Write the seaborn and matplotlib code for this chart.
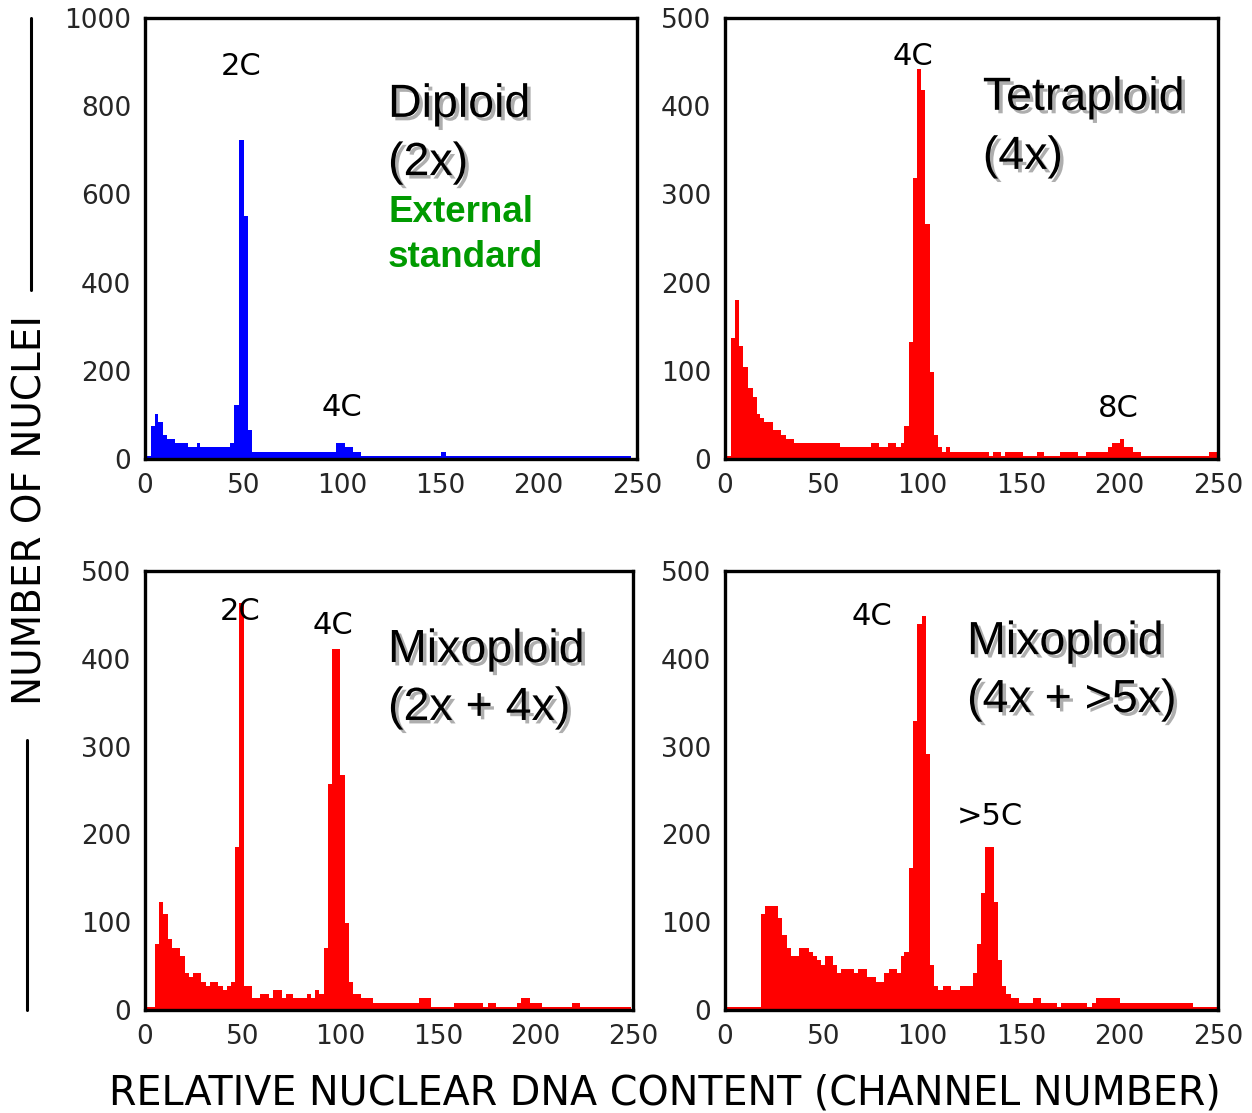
import numpy as np
import pandas as pd
import matplotlib
matplotlib.use("Agg")
import matplotlib.pyplot as plt
import matplotlib.patheffects as pe
from matplotlib.lines import Line2D
import seaborn as sns

# ---------------- data (bin edges in channels, counts per bin) ----------------
diploid_edges = [0, 3, 5, 6.6, 9.2, 11.4, 15.3, 21.9, 26.2, 28.1, 43.4, 45.4, 47.6,
                 50.2, 52.2, 54.2, 96.9, 101.5, 105.8, 109.7, 150.5, 153, 247]
diploid_counts = [7, 75, 102, 84, 54, 45, 36, 27, 36, 27, 36, 122, 723,
                  551, 66, 16, 36, 27, 16, 7, 16, 7]

tetra_edges = [0, 3, 5, 7, 9, 11.5, 14, 16, 18, 20, 24.5, 28.5, 31, 35, 58.5, 74, 78,
               82.5, 86.5, 89, 91, 93.5, 95.5, 97.5, 99.5, 101.5, 104, 106, 108, 110,
               112, 114, 134, 136, 140, 142, 151, 158, 162, 170, 179, 183, 194, 196.5,
               200.5, 202.5, 207, 211, 245.5, 250]
tetra_counts = [3, 137, 180, 128, 104, 80, 70, 51, 46, 42, 33, 27, 23, 18, 14, 18,
                14, 18, 14, 18, 37, 133, 319, 442, 418, 266, 99, 27, 14, 8,
                14, 8, 3, 8, 3, 8, 3, 8, 3, 8, 3, 8, 14,
                18, 23, 14, 8, 3, 8]

mixo24_edges = [0, 5, 7, 9, 12, 14, 18, 20.5, 22.5, 24.5, 28.5, 31, 33.5, 37.5, 40, 42,
                44, 46, 48, 50.5, 55, 59, 63.5, 65.5, 70, 72, 76, 83, 85, 87, 89, 91.5,
                94, 96, 100, 102.5, 104.5, 106.5, 110.5, 117, 140.5, 146.5, 158.5, 173,
                175.5, 180, 190.5, 192.5, 197, 203.5, 219, 223, 249]
mixo24_counts = [3, 75, 123, 109, 81, 71, 62, 42, 38, 42, 32, 27, 32, 27, 23,
                 27, 32, 186, 463, 27, 14, 18, 14, 23, 14, 18, 14, 18, 14, 23, 18,
                 71, 257, 411, 268, 99, 32, 18, 14, 8, 14, 3, 8,
                 3, 8, 3, 8, 14, 8, 3, 8, 3]

mixo45_edges = [0, 18.5, 20.5, 27, 29, 31.5, 33.5, 37.5, 42.5, 44.5, 46.5, 48.5, 50.5,
                55, 57, 59, 65.5, 67.5, 72, 76.5, 80.5, 83, 87, 89, 91, 93.5, 95.5,
                97.5, 100, 102, 104, 106, 108, 110.5, 114.5, 119, 126, 128, 130, 132,
                136.5, 138.5, 140.5, 142.5, 145, 149, 156, 160, 168.5, 170.5, 183.5,
                186, 188, 200.5, 237.5, 249.5]
mixo45_counts = [3, 109, 118, 105, 85, 71, 62, 71, 66, 62, 57, 51,
                 62, 51, 42, 47, 42, 47, 38, 32, 42, 47, 42, 62, 66, 162,
                 329, 440, 449, 292, 51, 27, 23, 27, 23, 27, 42, 75, 133,
                 186, 123, 57, 27, 18, 14, 8, 14, 8, 3, 8,
                 3, 8, 14, 8, 3]

x_ticks = [0, 50, 100, 150, 200, 250]
y_ticks_1000 = [0, 200, 400, 600, 800, 1000]
y_ticks_500 = [0, 100, 200, 300, 400, 500]

# ---------------- figure ----------------
sns.set_style("white")
plt.rcParams['font.family'] = ['DejaVu Sans']

W, H = 1252, 1113
fig = plt.figure(figsize=(W / 100, H / 100), dpi=100)


def ax_rect(left, top, right, bottom):
    return [left / W, (H - bottom) / H, (right - left) / W, (bottom - top) / H]


panels = [
    dict(rect=ax_rect(145, 18, 637, 459), edges=diploid_edges, counts=diploid_counts,
         color="#0000FF", ymax=1000, yticks=y_ticks_1000),
    dict(rect=ax_rect(725, 18, 1218, 459), edges=tetra_edges, counts=tetra_counts,
         color="#FF0000", ymax=500, yticks=y_ticks_500),
    dict(rect=ax_rect(145, 571, 633, 1010), edges=mixo24_edges, counts=mixo24_counts,
         color="#FF0000", ymax=500, yticks=y_ticks_500),
    dict(rect=ax_rect(725, 571, 1218, 1010), edges=mixo45_edges, counts=mixo45_counts,
         color="#FF0000", ymax=500, yticks=y_ticks_500),
]

axes = []
for p in panels:
    ax = fig.add_axes(p["rect"])
    edges = [float(e) for e in p["edges"]]
    mids = [(a + b) / 2 for a, b in zip(edges[:-1], edges[1:])]
    df = pd.DataFrame({"channel": mids, "count": p["counts"]})
    sns.histplot(data=df, x="channel", weights="count", bins=edges, element="step",
                 fill=True, alpha=1, linewidth=0, color=p["color"], ax=ax)
    ax.set_xlim(0, 250)
    ax.set_ylim(0, p["ymax"])
    ax.set_xticks(x_ticks)
    ax.set_yticks(p["yticks"])
    ax.set_xlabel("")
    ax.set_ylabel("")
    ax.tick_params(length=0, labelsize=19, pad=10)
    for s in ax.spines.values():
        s.set_visible(True)
        s.set_color("black")
        s.set_linewidth(2.4)
    ax.grid(False)
    axes.append(ax)

shadow = [pe.SimplePatchShadow(offset=(2.5, -2.5), shadow_rgbFace=(0.55, 0.55, 0.55), alpha=0.7),
          pe.Normal()]
big = dict(fontsize=33.5, family=['Liberation Sans', 'DejaVu Sans'], ha='left', va='center',
           color='black', path_effects=shadow)
peak = dict(fontsize=22, ha='center', va='center', color='black')
green = dict(fontsize=26.5, fontweight='bold', family=['Liberation Sans', 'DejaVu Sans'],
             ha='left', va='center', color='#009A00')

a1, a2, a3, a4 = axes
# panel 1
a1.text(0.494, 0.803, "Diploid", transform=a1.transAxes, **big)
a1.text(0.494, 0.671, "(2x)", transform=a1.transAxes, **big)
a1.text(0.494, 0.558, "External", transform=a1.transAxes, **green)
a1.text(0.494, 0.456, "standard", transform=a1.transAxes, **green)
a1.text(0.195, 0.889, "2C", transform=a1.transAxes, **peak)
a1.text(0.400, 0.116, "4C", transform=a1.transAxes, **peak)
# panel 2
a2.text(0.523, 0.819, "Tetraploid", transform=a2.transAxes, **big)
a2.text(0.523, 0.685, "(4x)", transform=a2.transAxes, **big)
a2.text(0.381, 0.913, "4C", transform=a2.transAxes, **peak)
a2.text(0.797, 0.115, "8C", transform=a2.transAxes, **peak)
# panel 3
a3.text(0.498, 0.820, "Mixoploid", transform=a3.transAxes, **big)
a3.text(0.498, 0.688, "(2x + 4x)", transform=a3.transAxes, **big)
a3.text(0.195, 0.908, "2C", transform=a3.transAxes, **peak)
a3.text(0.385, 0.876, "4C", transform=a3.transAxes, **peak)
# panel 4
a4.text(0.491, 0.838, "Mixoploid", transform=a4.transAxes, **big)
a4.text(0.491, 0.706, "(4x + >5x)", transform=a4.transAxes, **big)
a4.text(0.298, 0.897, "4C", transform=a4.transAxes, **peak)
a4.text(0.538, 0.441, ">5C", transform=a4.transAxes, **peak)

# shared axis labels
fig.text(31 / W, 1 - 510 / H, "NUMBER OF NUCLEI", rotation=90, ha='center', va='center',
         fontsize=28, color='black')
fig.add_artist(Line2D([31 / W, 31 / W], [1 - 18 / H, 1 - 290 / H], color='black', lw=2.2,
                      transform=fig.transFigure))
fig.add_artist(Line2D([27 / W, 27 / W], [1 - 740 / H, 1 - 1010 / H], color='black', lw=2.2,
                      transform=fig.transFigure))
fig.text(665 / W, 1 - 1093 / H, "RELATIVE NUCLEAR DNA CONTENT (CHANNEL NUMBER)",
         ha='center', va='center', fontsize=28.5, color='black')

fig.savefig("out.png", dpi=100, facecolor='white')
